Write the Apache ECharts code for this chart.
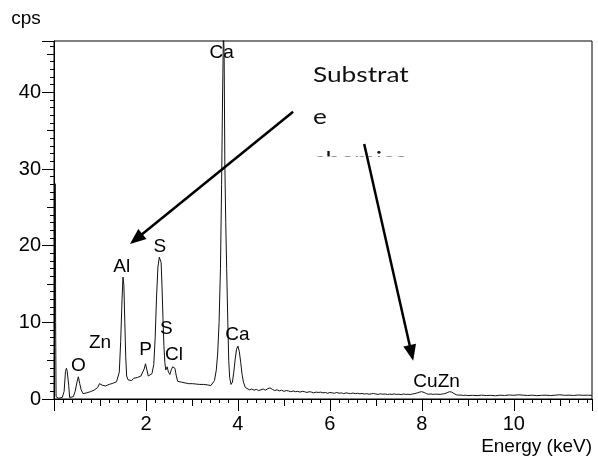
<!DOCTYPE html>
<html><head><meta charset="utf-8">
<script src="https://cdn.jsdelivr.net/npm/echarts@6/dist/echarts.min.js"></script>
<style>html,body{margin:0;padding:0;background:#fff}#c{width:598px;height:466px}</style>
</head><body><div id="c"></div>
<script>
// ---- spectrum (energy keV, counts per second) ----
const energy = [
0.03,0.035,0.045,0.10,0.18,0.22,0.25,0.27,0.285,0.30,0.32,0.34,0.38,0.42,0.46,0.50,0.53,0.56,0.59,0.63,
0.67,0.71,0.75,0.79,0.83,0.87,0.91,0.95,0.99,1.02,1.05,1.08,1.12,1.16,1.20,1.24,1.28,1.32,1.36,1.39,
1.42,1.45,1.48,1.50,1.52,1.54,1.56,1.58,1.61,1.65,1.69,1.73,1.77,1.81,1.85,1.89,1.93,1.96,1.99,2.02,
2.05,2.09,2.13,2.17,2.20,2.23,2.26,2.29,2.31,2.33,2.35,2.37,2.39,2.41,2.43,2.46,2.49,2.52,2.55,2.58,
2.61,2.63,2.66,2.69,2.73,2.77,2.81,2.85,2.89,2.93,2.97,3.01,3.05,3.09,3.13,3.17,3.21,3.25,3.29,3.33,
3.37,3.41,3.45,3.49,3.53,3.56,3.59,3.62,3.645,3.665,3.685,3.70,3.715,3.735,3.755,3.78,3.80,3.82,3.85,3.88,
3.91,3.94,3.97,4.00,4.03,4.06,4.09,4.12,4.16,
4.20,4.25,4.30,4.35,4.40,4.45,4.50,4.55,4.60,4.65,4.70,4.75,4.80,4.85,4.90,4.95,5.00,5.05,5.10,5.15,
5.20,5.25,5.30,5.35,5.40,5.45,5.50,5.55,5.60,5.65,5.70,5.75,5.80,5.85,5.90,5.95,6.00,6.05,6.10,6.15,
6.20,6.25,6.30,6.35,6.40,6.45,6.50,6.55,6.60,6.65,6.70,6.75,6.80,6.85,6.90,6.95,7.00,7.05,7.10,7.15,
7.20,7.25,7.30,7.35,7.40,7.45,7.50,7.55,7.60,7.65,7.70,7.75,7.80,7.85,7.90,7.95,8.00,8.05,8.10,8.15,
8.20,8.25,8.30,8.35,8.40,8.45,8.50,8.55,8.60,8.65,8.70,8.75,8.80,8.85,8.90,8.95,9.00,9.10,9.20,9.30,
9.40,9.50,9.60,9.70,9.80,9.90,10.0,10.1,10.2,10.3,10.4,10.5,10.6,10.7,10.8,10.9,11.0,11.1,11.2,11.3,
11.4,11.5,11.6,11.7
];
const counts = [
28.1,10,0.3,0.1,0.2,1.0,3.6,4.0,3.7,3.9,1.8,0.2,0.1,0.3,1.0,2.2,2.9,2.0,1.2,0.7,
0.75,0.8,0.9,0.95,1.05,1.15,1.3,1.5,2.0,2.2,1.8,1.6,1.7,1.75,1.9,1.95,2.05,2.1,2.25,2.3,
3.5,7.5,13.0,15.9,14.8,10.0,5.5,3.0,2.5,2.6,2.4,2.7,2.5,2.8,2.6,3.0,3.2,3.9,4.6,3.8,
3.0,2.8,3.3,4.5,8.0,13.3,17.2,18.5,18.6,17.8,14.5,10.5,7.0,4.8,3.8,4.2,3.5,3.2,3.8,4.2,
4.4,4.0,3.0,2.3,2.1,2.2,2.0,2.1,1.9,2.0,1.9,2.0,1.9,1.95,1.85,1.9,1.8,1.9,1.75,1.85,
1.7,1.75,1.7,2.4,3.8,6.0,10.0,17.0,28.0,39.0,48.0,45.0,31.0,23.0,17.0,10.0,5.0,2.8,1.9,2.2,
3.5,5.2,6.5,6.9,6.2,4.8,3.2,2.2,1.5,
1.35,1.2,1.3,1.15,1.25,1.1,1.2,1.3,1.15,1.35,1.45,1.25,1.1,1.2,1.05,1.15,1.0,1.1,1.05,0.95,
1.05,0.95,1.0,0.9,1.0,0.95,0.85,0.95,0.9,0.8,0.9,0.85,0.9,0.8,0.85,0.75,0.85,0.8,0.75,0.85,
0.75,0.8,0.7,0.8,0.75,0.7,0.78,0.7,0.75,0.68,0.72,0.65,0.7,0.62,0.68,0.72,0.65,0.6,0.68,0.62,
0.66,0.58,0.64,0.6,0.66,0.6,0.62,0.58,0.65,0.6,0.62,0.58,0.66,0.7,0.8,0.9,0.95,0.85,0.7,0.62,
0.66,0.6,0.64,0.62,0.6,0.66,0.7,0.82,0.95,0.9,0.7,0.55,0.5,0.52,0.46,0.5,0.45,0.48,0.44,0.5,
0.45,0.48,0.42,0.5,0.46,0.52,0.48,0.55,0.5,0.46,0.5,0.44,0.48,0.5,0.45,0.5,0.55,0.48,0.5,0.46,
0.52,0.48,0.5,0.47
];

// ---- tick labels ----
const xTickLabels = ['2', '4', '6', '8', '10'];
const yTickLabels = ['0', '10', '20', '30', '40'];

// ---- peak labels ----
const peakNames = ['Ca', 'Al', 'S', 'S', 'Cl', 'P', 'Zn', 'O', 'Ca', 'CuZn'];
const peakX = [3.646, 1.472, 2.304, 2.441, 2.609, 1.993, 1.0, 0.528, 3.989, 8.32];
const peakY = [45.1, 17.25, 19.86, 9.22, 5.74, 6.39, 7.39, 4.34, 8.35, 2.26];

// ---- annotation arrows (data coords) ----
const arrowStartX = [5.20, 6.746];
const arrowStartY = [37.47, 33.26];
const arrowEndX = [1.652, 7.811];
const arrowEndY = [20.21, 4.99];
const noteLines = ['Substrat', 'e', 'chemica'];

const X_MIN = 0, X_MAX = 11.7, Y_MIN = 0, Y_MAX = 46.7;
const FONT = "'Liberation Sans', Arial, sans-serif";
const spectrum = energy.map((e, i) => [e, counts[i]]);
const peaks = peakNames.map((n, i) => [peakX[i], peakY[i], n]);

const black = { color: '#000', width: 1 };
function xAx(interval, len, main) {
  return {
    type: 'value', position: 'bottom', min: X_MIN, max: X_MAX, interval: interval,
    axisLine: { show: true, onZero: false, lineStyle: main ? black : { color: 'rgba(0,0,0,0)' } },
    axisTick: { show: true, inside: false, length: len, lineStyle: black },
    minorTick: { show: !!main, splitNumber: 10, length: 4, lineStyle: black },
    axisLabel: main ? {
      show: true, margin: 15, color: '#000', fontSize: 20, fontFamily: FONT,
      formatter: v => (xTickLabels.indexOf(String(v)) >= 0 ? String(v) : '')
    } : { show: false },
    splitLine: { show: false },
    name: main ? 'Energy (keV)' : '',
    nameLocation: 'end', nameGap: 0,
    nameTextStyle: { align: 'right', verticalAlign: 'top', padding: [38, 0, 0, 0], color: '#000', fontSize: 19, fontFamily: FONT }
  };
}
function yAx(interval, len, main) {
  return {
    type: 'value', position: 'left', min: Y_MIN, max: Y_MAX, interval: interval,
    axisLine: { show: true, onZero: false, lineStyle: main ? black : { color: 'rgba(0,0,0,0)' } },
    axisTick: { show: true, inside: false, length: len, lineStyle: black },
    minorTick: { show: !!main, splitNumber: 10, length: 4, lineStyle: black },
    axisLabel: main ? {
      show: true, margin: 13, color: '#000', fontSize: 20, fontFamily: FONT,
      formatter: v => (yTickLabels.indexOf(String(v)) >= 0 ? String(v) : '')
    } : { show: false },
    splitLine: { show: false },
    name: main ? 'cps' : '',
    nameLocation: 'end', nameGap: 13,
    nameTextStyle: { align: 'center', padding: [0, 56, 0, 0], color: '#000', fontSize: 19, fontFamily: FONT }
  };
}

const option = {
  animation: false,
  backgroundColor: '#fff',
  grid: { left: 54, right: 6, top: 41, bottom: 67, show: true, borderColor: '#000', borderWidth: 1, backgroundColor: '#fff' },
  xAxis: [xAx(2, 12, true), xAx(1, 7, false)],
  yAxis: [yAx(10, 12, true), yAx(5, 7, false)],
  series: [
    {
      type: 'line', xAxisIndex: 0, yAxisIndex: 0, data: spectrum, showSymbol: false, symbol: 'none',
      lineStyle: { color: '#111', width: 1 }, clip: true, silent: true, z: 3
    },
    {
      type: 'line', xAxisIndex: 1, yAxisIndex: 1, data: [], silent: true
    },
    {
      type: 'scatter', xAxisIndex: 0, yAxisIndex: 0, data: peaks, symbolSize: 0, silent: true, z: 4,
      itemStyle: { opacity: 1 },
      label: { show: true, position: 'inside', opacity: 1, formatter: p => p.data[2], color: '#000', fontSize: 19, fontFamily: FONT }
    }
  ]
};

const chart = echarts.init(document.getElementById('c'), null, { renderer: 'canvas' });
chart.setOption(option);

const graphics = [];
graphics.push({
  type: 'text', x: 313, y: 53.7, scaleX: 1.25, z: 10, silent: true,
  style: { text: noteLines.join('\n'), font: "21px Lato, 'Open Sans', sans-serif", fill: '#111', lineHeight: 42.6, textVerticalAlign: 'top', textAlign: 'left' }
});
graphics.push({
  type: 'rect', z: 11, silent: true, shape: { x: 305, y: 156.5, width: 115, height: 20 }, style: { fill: '#fff' }
});
for (let i = 0; i < arrowStartX.length; i++) {
  const s = chart.convertToPixel({ seriesIndex: 0 }, [arrowStartX[i], arrowStartY[i]]);
  const t = chart.convertToPixel({ seriesIndex: 0 }, [arrowEndX[i], arrowEndY[i]]);
  const dx = t[0] - s[0], dy = t[1] - s[1], L = Math.hypot(dx, dy);
  const ux = dx / L, uy = dy / L, nx = -uy, ny = ux;
  const HL = 16, HW = 6.5;
  const bx = t[0] - ux * HL, by = t[1] - uy * HL;
  graphics.push({ type: 'line', z: 100, silent: true, shape: { x1: s[0], y1: s[1], x2: bx + ux * 2, y2: by + uy * 2 }, style: { stroke: '#000', lineWidth: 2.5 } });
  graphics.push({ type: 'polygon', z: 100, silent: true, shape: { points: [[t[0], t[1]], [bx + nx * HW, by + ny * HW], [bx - nx * HW, by - ny * HW]] }, style: { fill: '#000' } });
}
chart.setOption({ graphic: graphics });
</script></body></html>
